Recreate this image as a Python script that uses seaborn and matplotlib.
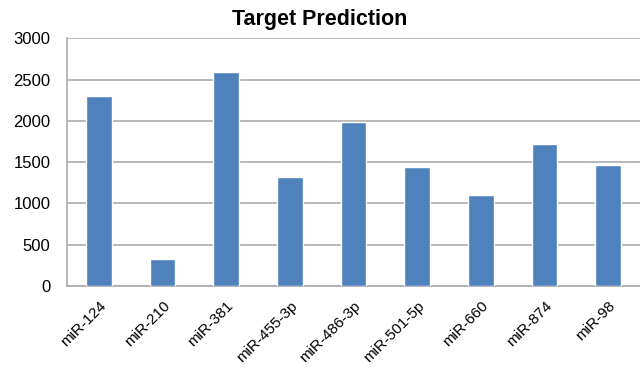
import matplotlib
matplotlib.use("Agg")
import matplotlib.pyplot as plt
import seaborn as sns
import pandas as pd

categories = ["miR-124", "miR-210", "miR-381", "miR-455-3p", "miR-486-3p",
              "miR-501-5p", "miR-660", "miR-874", "miR-98"]
values = [2305, 330, 2590, 1315, 1980, 1440, 1100, 1714, 1470]
yticks = [0, 500, 1000, 1500, 2000, 2500, 3000]
title = "Target Prediction"

sns.set_style("white")
plt.rcParams['font.family'] = ['Liberation Sans', 'DejaVu Sans']

df = pd.DataFrame({"miRNA": categories, "count": values})

fig = plt.figure(figsize=(6.4, 3.75), dpi=100)
ax = fig.add_axes([0.1047, 0.2373, 0.8953, 0.6607])
sns.barplot(data=df, x="miRNA", y="count", color="#4F81BD", width=0.4,
            saturation=1, ax=ax, zorder=3)
ax.set_ylim(0, 3000)
ax.set_yticks(yticks)
ax.set_yticklabels([str(t) for t in yticks], fontsize=12, color="black")
ax.set_xlim(-0.5, len(categories) - 0.5)
ax.yaxis.grid(True, color="#ABABAB", linewidth=1.2, zorder=0)
ax.set_axisbelow(True)
for s in ["right", "top"]:
    ax.spines[s].set_visible(False)
for s in ["left", "bottom"]:
    ax.spines[s].set_color("#ABABAB")
    ax.spines[s].set_linewidth(1.2)
ax.tick_params(axis="y", length=0, pad=12)
ax.tick_params(axis="x", length=0, pad=9)
plt.setp(ax.get_xticklabels(), rotation=45, ha="right", rotation_mode="anchor",
         fontsize=11, color="black")
ax.set_xlabel("")
ax.set_ylabel("")
fig.suptitle(title, x=0.5, y=0.975, fontsize=15.5, fontweight="bold", color="black")
fig.savefig("out.png", dpi=100)
